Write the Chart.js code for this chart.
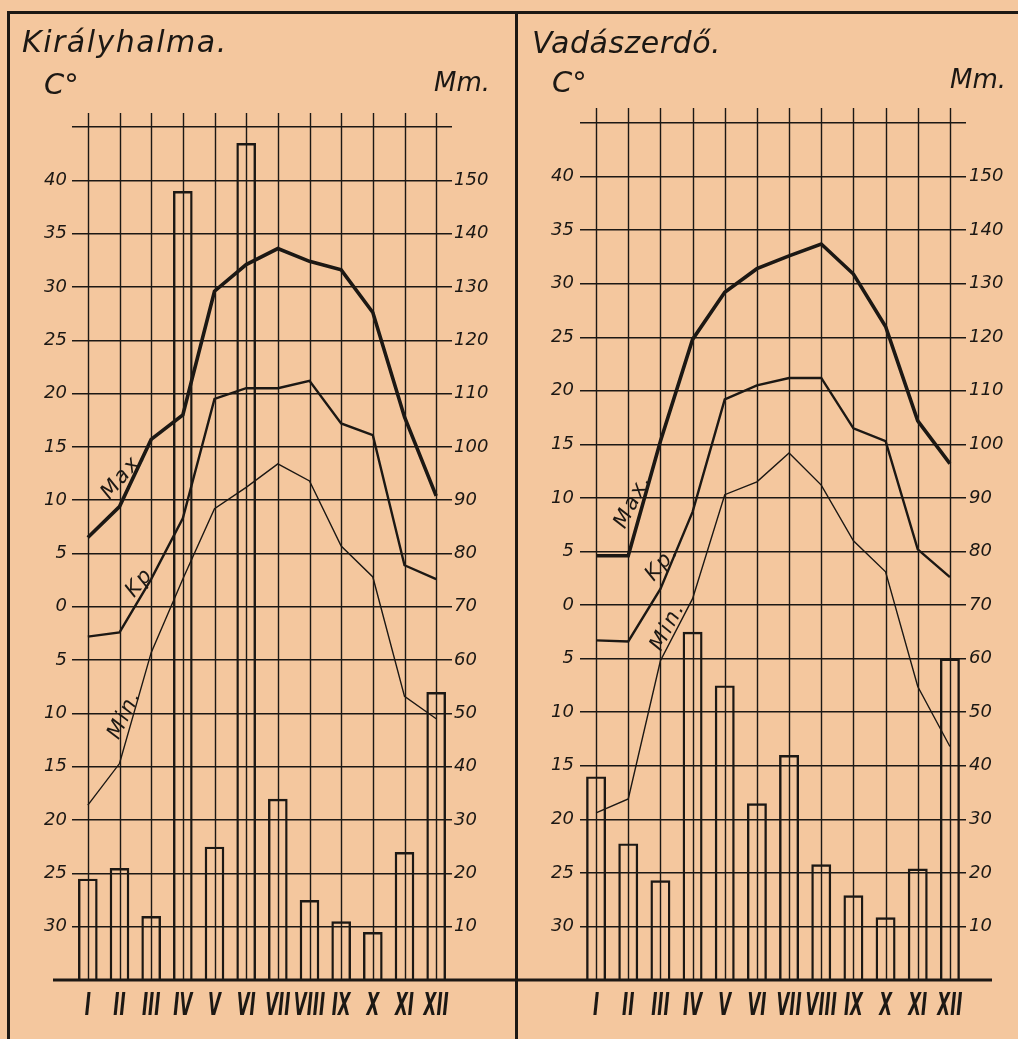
<!DOCTYPE html>
<html><head><meta charset="utf-8">
<script src="https://cdn.jsdelivr.net/npm/chart.js@4.4.1/dist/chart.umd.min.js"></script>
<style>
html,body{margin:0;padding:0;width:1018px;height:1039px;overflow:hidden;background:#f4c79e;}
.abs{position:absolute;}
.t{font-family:'DejaVu Sans',sans-serif;font-style:italic;color:#1c1814;white-space:nowrap;line-height:1;}
.bar{background:#1c1814;}
</style></head><body>
<div class="abs bar" style="left:7px;top:11px;width:1011px;height:3px"></div>
<div class="abs bar" style="left:7px;top:11px;width:3px;height:1028px"></div>
<div class="abs bar" style="left:515px;top:11px;width:3px;height:1028px"></div>
<canvas id="c1" class="abs" style="left:0;top:0" width="516" height="1039"></canvas>
<canvas id="c2" class="abs" style="left:516px;top:0" width="502" height="1039"></canvas>
<div class="abs t" style="left:22px;top:27px;font-size:30px;letter-spacing:1.5px">Királyhalma.</div>
<div class="abs t" style="left:44px;top:70px;font-size:29px">C°</div>
<div class="abs t" style="left:434px;top:69px;font-size:26px">Mm.</div>
<div class="abs t" style="left:532px;top:28px;font-size:30px;letter-spacing:0.5px">Vadászerdő.</div>
<div class="abs t" style="left:552px;top:68px;font-size:29px">C°</div>
<div class="abs t" style="left:950px;top:66px;font-size:26px">Mm.</div>
<script>
// ---- data ----
const months = ['I','II','III','IV','V','VI','VII','VIII','IX','X','XI','XII'];
const kiralyhalmaMax  = [6.5, 9.4, 15.7, 18.0, 29.6, 32.1, 33.6, 32.4, 31.6, 27.6, 17.8, 10.4];
const kiralyhalmaKp   = [-2.8, -2.4, 2.6, 8.3, 19.5, 20.5, 20.5, 21.2, 17.2, 16.1, 3.9, 2.6];
const kiralyhalmaMin  = [-18.6, -14.7, -4.3, 2.6, 9.2, 11.2, 13.4, 11.8, 5.7, 2.8, -8.4, -10.5];
const kiralyhalmaRain = [19, 21, 12, 148, 25, 157, 34, 15, 11, 9, 24, 54];
const vadaszerdoMax   = [4.6, 4.6, 15.3, 24.8, 29.2, 31.4, 32.6, 33.7, 30.9, 26.0, 17.2, 13.2];
const vadaszerdoKp    = [-3.3, -3.4, 1.5, 8.7, 19.2, 20.5, 21.2, 21.2, 16.5, 15.3, 5.2, 2.6];
const vadaszerdoMin   = [-19.4, -18.1, -5.2, 0.6, 10.3, 11.5, 14.2, 11.2, 6.0, 3.1, -7.6, -13.2];
const vadaszerdoRain  = [38, 25.5, 18.6, 65, 55, 33, 42, 21.6, 15.8, 11.7, 20.8, 60];
const tempMin = -35, tempMax = 45, tempStep = 5;
const rainMin = 0, rainMax = 160, rainStep = 10;
const seriesNames = ['Max.', 'Kp', 'Min.'];

const INK = '#1c1814';
const FONT = 'DejaVu Sans';

const decorPlugin = {
  id: 'decor',
  beforeDatasetsDraw(chart, args, o) {
    const ctx = chart.ctx, x = chart.scales.x, a = chart.chartArea;
    ctx.save();
    ctx.strokeStyle = INK; ctx.lineWidth = 1.4;
    for (let i = 0; i < months.length; i++) {
      const px = Math.round(x.getPixelForValue(i)) + 0.5;
      ctx.beginPath(); ctx.moveTo(px, a.top - o.ext); ctx.lineTo(px, a.bottom); ctx.stroke();
    }
    ctx.restore();
  },
  afterDatasetsDraw(chart, args, o) {
    const ctx = chart.ctx, x = chart.scales.x, y = chart.scales.yT;
    ctx.save();
    ctx.strokeStyle = INK; ctx.lineWidth = 3;
    const by = y.getPixelForValue(tempMin);
    ctx.beginPath(); ctx.moveTo(o.base[0], by); ctx.lineTo(o.base[1], by); ctx.stroke();
    ctx.fillStyle = INK;
    ctx.textAlign = 'center'; ctx.textBaseline = 'middle';
    // month numerals (tall, narrow italic)
    ctx.font = 'italic bold 32px "' + FONT + '"';
    x.ticks.forEach((tk, i) => {
      ctx.save();
      ctx.translate(x.getPixelForTick(i), by + 27);
      ctx.scale(0.52, 1);
      ctx.fillText(months[tk.value], 0, 0);
      ctx.restore();
    });
    // series labels along the lines
    ctx.font = 'italic 21px "' + FONT + '"';
    try { ctx.letterSpacing = '2px'; } catch (e) {}
    o.labels.forEach(l => {
      ctx.save();
      ctx.translate(x.getPixelForValue(l.xi), y.getPixelForValue(l.t));
      ctx.rotate(l.ang * Math.PI / 180);
      ctx.fillText(l.text, 0, 0);
      ctx.restore();
    });
    ctx.restore();
  }
};

function makePanel(id, mx, kp, mn, rain, lay) {
  new Chart(document.getElementById(id), {
    type: 'bar',
    data: {
      labels: months,
      datasets: [
        { type: 'line', label: seriesNames[0], data: mx, yAxisID: 'yT', borderColor: INK, borderWidth: 3.6, pointRadius: 0, tension: 0, order: 1 },
        { type: 'line', label: seriesNames[1], data: kp, yAxisID: 'yT', borderColor: INK, borderWidth: 2.4, pointRadius: 0, tension: 0, order: 2 },
        { type: 'line', label: seriesNames[2], data: mn, yAxisID: 'yT', borderColor: INK, borderWidth: 1.4, pointRadius: 0, tension: 0, order: 3 },
        { type: 'bar', label: 'Mm.', data: rain, yAxisID: 'yP', backgroundColor: 'rgba(0,0,0,0)', borderColor: INK, borderWidth: 2.4, categoryPercentage: 1, barPercentage: 0.62, order: 4 }
      ]
    },
    options: {
      responsive: false, animation: false, devicePixelRatio: 1,
      layout: { padding: { left: 0, right: 0, top: lay.top, bottom: 0 } },
      plugins: { legend: { display: false }, tooltip: { enabled: false }, title: { display: false },
        decor: { ext: lay.ext, base: lay.base, labels: lay.labels } },
      scales: {
        x: {
          offset: true,
          grid: { display: false }, border: { display: false },
          ticks: { display: false, autoSkip: false },
          afterFit(s) { s.height = 1039 - 980; }
        },
        yT: {
          position: 'left', min: tempMin, max: tempMax,
          border: { display: false },
          grid: { drawTicks: false, color: c => (c.tick.value === tempMin ? 'rgba(0,0,0,0)' : INK), lineWidth: 1.4 },
          ticks: { stepSize: tempStep, padding: lay.lpad, color: INK, font: { family: FONT, style: 'italic', size: 18 },
            callback: v => (v === tempMin || v === tempMax) ? '' : String(Math.abs(v)) },
          afterFit(s) { s.width = lay.left; }
        },
        yP: {
          position: 'right', min: rainMin, max: rainMax,
          border: { display: false },
          grid: { display: false, drawTicks: false },
          ticks: { stepSize: rainStep, padding: lay.rpad, color: INK, font: { family: FONT, style: 'italic', size: 18 },
            callback: v => (v === rainMin || v === rainMax) ? '' : String(v) },
          afterFit(s) { s.width = lay.right; }
        }
      }
    },
    plugins: [decorPlugin]
  });
}

makePanel('c1', kiralyhalmaMax, kiralyhalmaKp, kiralyhalmaMin, kiralyhalmaRain, {
  top: 127, left: 72, right: 516 - 452, lpad: 5, rpad: 2, ext: 14, base: [53, 516],
  labels: [
    { text: 'Max.', xi: 1.14, t: 12.4, ang: -50 },
    { text: 'Kp', xi: 1.64, t: 2.25, ang: -50 },
    { text: 'Min.', xi: 1.17, t: -10.1, ang: -64 }
  ]
});
makePanel('c2', vadaszerdoMax, vadaszerdoKp, vadaszerdoMin, vadaszerdoRain, {
  top: 123, left: 64, right: 502 - 450, lpad: 6, rpad: 3, ext: 15, base: [0, 476],
  labels: [
    { text: 'Max.', xi: 1.15, t: 9.7, ang: -63 },
    { text: 'Kp.', xi: 2.06, t: 3.9, ang: -50 },
    { text: 'Min.', xi: 2.24, t: -2.0, ang: -62 }
  ]
});
</script>
</body></html>
